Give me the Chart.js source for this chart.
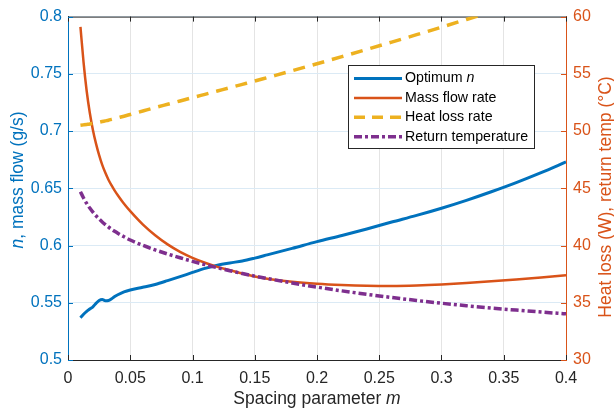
<!DOCTYPE html>
<html><head><meta charset="utf-8">
<script src="https://cdn.jsdelivr.net/npm/chart.js@4/dist/chart.umd.min.js"></script>
<style>html,body{margin:0;padding:0;background:#fff;}#wrap{width:614px;height:413px;}</style>
</head><body><div id="wrap"><canvas id="c" width="614" height="413"></canvas></div>
<script>
const spacingM = [0.01,0.0125,0.015,0.0175,0.02,0.0225,0.025,0.0275,0.03,0.0325,0.035,0.0375,0.04,0.045,0.05,0.06,0.07,0.08,0.09,0.1,0.11,0.12,0.13,0.14,0.15,0.16,0.18,0.2,0.22,0.24,0.26,0.28,0.3,0.32,0.34,0.36,0.38,0.4];
const optimumN = [0.537,0.540,0.5425,0.5445,0.5465,0.5495,0.552,0.5528,0.5518,0.552,0.5535,0.5555,0.557,0.5595,0.5612,0.5635,0.566,0.5693,0.5728,0.5765,0.580,0.5828,0.5848,0.5865,0.589,0.5918,0.5975,0.6034,0.6088,0.6145,0.6205,0.6263,0.6326,0.6395,0.6470,0.6550,0.6637,0.673];
const massFlow = [0.791,0.760,0.735,0.716,0.701,0.689,0.679,0.6705,0.6635,0.6575,0.6525,0.648,0.644,0.6365,0.630,0.6185,0.609,0.601,0.5945,0.5893,0.585,0.5814,0.5785,0.5755,0.573,0.571,0.5684,0.5667,0.5656,0.5649,0.5647,0.5651,0.566,0.5673,0.5688,0.5704,0.5721,0.574];
const heatLoss = [50.5,50.54,50.58,50.62,50.67,50.72,50.77,50.83,50.89,50.95,51.02,51.09,51.16,51.3,51.45,51.75,52.05,52.34,52.63,52.92,53.21,53.5,53.79,54.08,54.37,54.67,55.27,55.88,56.5,57.13,57.77,58.42,59.08,59.75,60.43,61.12,61.82,62.53];
const returnTemp = [44.7,44.15,43.68,43.27,42.92,42.6,42.32,42.06,41.83,41.62,41.42,41.24,41.07,40.76,40.48,40.02,39.62,39.26,38.93,38.62,38.33,38.06,37.8,37.56,37.33,37.12,36.73,36.37,36.04,35.74,35.46,35.2,34.96,34.74,34.54,34.36,34.19,34.03];
const xTicks = [0,0.05,0.1,0.15,0.2,0.25,0.3,0.35,0.4];
const leftTicks = [0.5,0.55,0.6,0.65,0.7,0.75,0.8];
const rightTicks = [30,35,40,45,50,55,60];
const seriesNames = ['Optimum ', 'Mass flow rate', 'Heat loss rate', 'Return temperature'];

const FAM = '"Liberation Sans", Arial, Helvetica, sans-serif';
const BLUE = '#0072BD', ORANGE = '#D95319', YELLOW = '#EDB120', PURPLE = '#7E2F8E', DARK = '#262626';
const pts = arr => spacingM.map((x, i) => ({x: x, y: arr[i]}));
const fmt = v => String(+Number(v).toFixed(2));

function drawRich(ctx, parts, x, y, size, align) {
  let total = 0;
  const widths = parts.map(p => { ctx.font = (p[1] ? 'italic ' : '') + size + 'px ' + FAM; const w = ctx.measureText(p[0]).width; total += w; return w; });
  let cx = align === 'center' ? x - total / 2 : x;
  ctx.textAlign = 'left';
  ctx.textBaseline = 'middle';
  parts.forEach((p, i) => { ctx.font = (p[1] ? 'italic ' : '') + size + 'px ' + FAM; ctx.fillText(p[0], cx, y); cx += widths[i]; });
}

const decor = {
  id: 'decor',
  beforeDatasetsDraw(chart) {
    const {ctx, chartArea: a, scales} = chart;
    ctx.save();
    ctx.lineWidth = 1;
    ctx.strokeStyle = DARK;
    ctx.beginPath(); ctx.moveTo(a.left, a.top + 0.5); ctx.lineTo(a.right, a.top + 0.5); ctx.stroke();
    xTicks.forEach(v => {
      const px = Math.round(scales.x.getPixelForValue(v)) + 0.5;
      ctx.beginPath(); ctx.moveTo(px, a.bottom); ctx.lineTo(px, a.bottom - 5); ctx.stroke();
      ctx.beginPath(); ctx.moveTo(px, a.top); ctx.lineTo(px, a.top + 5); ctx.stroke();
    });
    ctx.strokeStyle = BLUE;
    leftTicks.forEach(v => {
      const py = Math.round(scales.y.getPixelForValue(v)) + 0.5;
      ctx.beginPath(); ctx.moveTo(a.left, py); ctx.lineTo(a.left + 5, py); ctx.stroke();
    });
    ctx.strokeStyle = ORANGE;
    rightTicks.forEach(v => {
      const py = Math.round(scales.y1.getPixelForValue(v)) + 0.5;
      ctx.beginPath(); ctx.moveTo(a.right, py); ctx.lineTo(a.right - 5, py); ctx.stroke();
    });
    ctx.restore();
  },
  afterDraw(chart) {
    const {ctx} = chart;
    ctx.save();
    ctx.fillStyle = BLUE;
    ctx.translate(18.5, 180); ctx.rotate(-Math.PI / 2);
    drawRich(ctx, [['n', true], [', mass flow (g/s)', false]], 0, 0, 17.5, 'center');
    ctx.restore();
    ctx.save();
    ctx.fillStyle = ORANGE;
    ctx.translate(606, 197); ctx.rotate(-Math.PI / 2);
    drawRich(ctx, [['Heat loss (W), return temp (\u00B0C)', false]], 0, 0, 17.5, 'center');
    ctx.restore();
    ctx.save();
    ctx.fillStyle = DARK;
    drawRich(ctx, [['Spacing parameter ', false], ['m', true]], 317, 399, 17.5, 'center');
    const bx = 348.5, by = 65.5, bw = 186, bh = 83;
    ctx.fillStyle = '#fff'; ctx.fillRect(bx, by, bw, bh);
    ctx.strokeStyle = DARK; ctx.lineWidth = 1; ctx.strokeRect(bx, by, bw, bh);
    const rows = [
      {c: BLUE, dash: [], w: 3, parts: [[seriesNames[0], false], ['n', true]]},
      {c: ORANGE, dash: [], w: 2.5, parts: [[seriesNames[1], false]]},
      {c: YELLOW, dash: [11, 7], w: 3.5, parts: [[seriesNames[2], false]]},
      {c: PURPLE, dash: [8, 3, 3, 3], w: 3.5, parts: [[seriesNames[3], false]]}
    ];
    rows.forEach((r, i) => {
      const y = 78.5 + i * 19.4;
      ctx.strokeStyle = r.c; ctx.lineWidth = r.w; ctx.setLineDash(r.dash);
      ctx.beginPath(); ctx.moveTo(354, y); ctx.lineTo(402, y); ctx.stroke();
      ctx.setLineDash([]);
      ctx.fillStyle = '#000';
      drawRich(ctx, r.parts, 405, y, 14.2, 'left');
    });
    ctx.restore();
  }
};

new Chart(document.getElementById('c'), {
  type: 'line',
  data: {
    datasets: [
      {label: seriesNames[0], data: pts(optimumN), yAxisID: 'y', borderColor: BLUE, borderWidth: 3, order: 3},
      {label: seriesNames[1], data: pts(massFlow), yAxisID: 'y', borderColor: ORANGE, borderWidth: 2.5, order: 2},
      {label: seriesNames[2], data: pts(heatLoss), yAxisID: 'y1', borderColor: YELLOW, borderWidth: 3.5, borderDash: [12, 8], order: 1},
      {label: seriesNames[3], data: pts(returnTemp), yAxisID: 'y1', borderColor: PURPLE, borderWidth: 3.5, borderDash: [8, 3, 3, 3], order: 0}
    ]
  },
  options: {
    responsive: false, animation: false, devicePixelRatio: 1,
    layout: {padding: {top: 12, left: 0, right: 0, bottom: 0}},
    elements: {point: {radius: 0}, line: {cubicInterpolationMode: 'monotone', fill: false}},
    plugins: {legend: {display: false}, tooltip: {enabled: false}},
    scales: {
      x: {
        type: 'linear', min: 0, max: 0.4,
        afterBuildTicks: s => { s.ticks = xTicks.map(v => ({value: v})); },
        afterFit: s => { s.height = 53; },
        ticks: {callback: fmt, color: DARK, font: {size: 16, family: FAM}, padding: 9, maxRotation: 0, autoSkip: false},
        grid: {color: '#e4e4e4', drawTicks: false, lineWidth: 1},
        border: {display: true, color: DARK, width: 1}
      },
      y: {
        position: 'left', min: 0.5, max: 0.8,
        afterBuildTicks: s => { s.ticks = leftTicks.map(v => ({value: v})); },
        afterFit: s => { s.width = 68; },
        ticks: {callback: fmt, color: BLUE, font: {size: 16, family: FAM}, padding: 6, autoSkip: false},
        grid: {color: '#dbeaf5', drawTicks: false, lineWidth: 1},
        border: {display: true, color: BLUE, width: 1}
      },
      y1: {
        position: 'right', min: 30, max: 60,
        afterBuildTicks: s => { s.ticks = rightTicks.map(v => ({value: v})); },
        afterFit: s => { s.width = 48; },
        ticks: {callback: fmt, color: ORANGE, font: {size: 16, family: FAM}, padding: 7, autoSkip: false},
        grid: {drawOnChartArea: false, drawTicks: false},
        border: {display: true, color: ORANGE, width: 1}
      }
    }
  },
  plugins: [decor]
});
</script></body></html>
